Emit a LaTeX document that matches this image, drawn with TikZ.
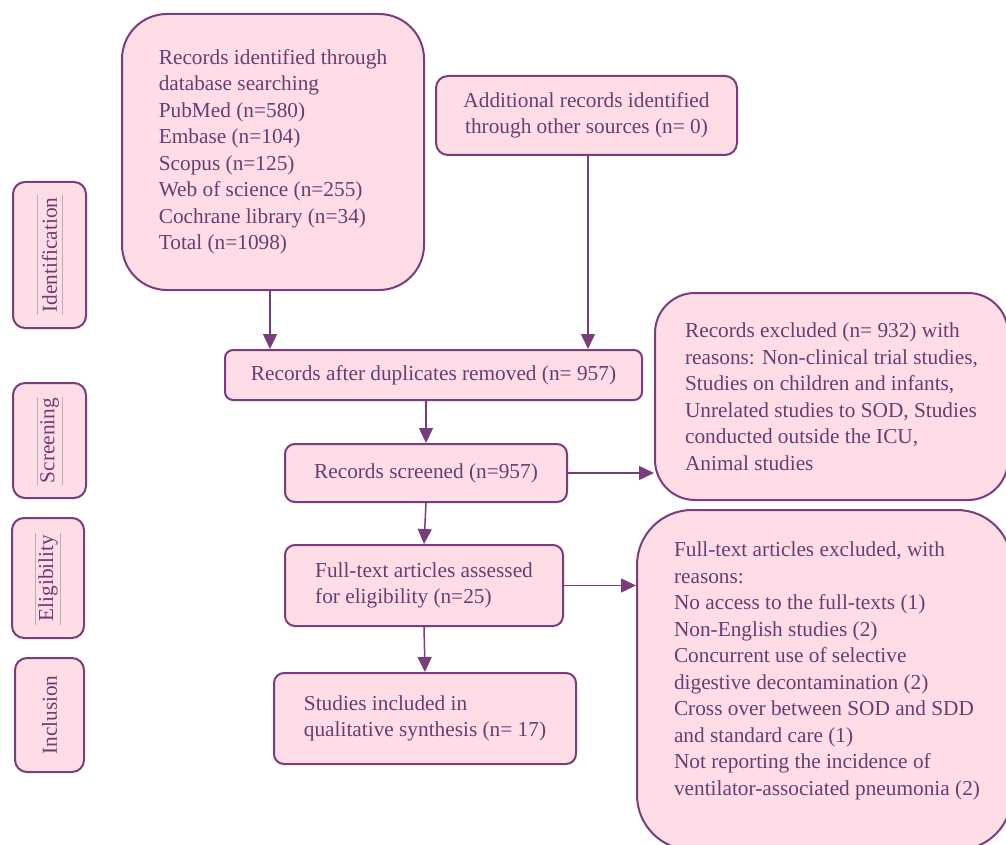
\documentclass[tikz,border=0pt]{standalone}
\usepackage{fontspec}
\setmainfont{Liberation Serif}
\usetikzlibrary{arrows.meta,calc}
\definecolor{boxfill}{HTML}{FFDDE6}
\definecolor{boxline}{HTML}{793D7C}
\definecolor{boxtext}{HTML}{6E3A72}
\definecolor{sideline}{HTML}{B8B0B4}
\begin{document}
\begin{tikzpicture}[x=1pt,y=-1pt,
  every node/.style={font=\fontsize{21.3}{26.5}\selectfont, text=boxtext},
  flowbox/.style={draw=boxline, fill=boxfill, line width=2pt, inner sep=0pt},
  sidebox/.style={flowbox, rotate=90, rounded corners=12pt},
  conn/.style={draw=boxline, line width=1.5pt, -{Triangle[length=15pt,width=14pt]}},
  sidemark/.style={draw=sideline, line width=0.8pt}]
\useasboundingbox (0,0) rectangle (1006,845);

% main boxes
\node[flowbox, rounded corners=45pt, minimum width=302pt, minimum height=276pt, align=left] (ident) at (273,152)
  {Records identified through\\database searching\\PubMed (n=580)\\Embase (n=104)\\Scopus (n=125)\\Web of science (n=255)\\Cochrane library (n=34)\\Total (n=1098)};
\node[flowbox, rounded corners=12pt, minimum width=301pt, minimum height=79pt, align=center] (other) at (586.5,115.5)
  {Additional records identified\\through other sources (n= 0)};
\node[flowbox, rounded corners=8pt, minimum width=417pt, minimum height=50pt] (dup) at (433.5,375)
  {Records after duplicates removed (n= 957)};
\node[flowbox, rounded corners=40pt, minimum width=353pt, minimum height=207pt, align=left] (excl) at (831.5,396.5)
  {Records excluded (n= 932) with\\reasons: Non-clinical trial studies,\\Studies on children and infants,\\Unrelated studies to SOD, Studies\\conducted outside the ICU,\\Animal studies};
\node[flowbox, rounded corners=10pt, minimum width=282pt, minimum height=58pt] (screen) at (426,473)
  {Records screened (n=957)};
\node[flowbox, rounded corners=10pt, minimum width=278pt, minimum height=81pt, align=left] (full) at (424,585.5)
  {Full-text articles assessed\\for eligibility (n=25)};
\node[flowbox, rounded corners=55pt, minimum width=375pt, minimum height=340pt] (fullex) at (824.5,680) {};
\node[align=left, inner sep=0pt] (fullextext) at (827,671)
  {Full-text articles excluded, with\\reasons:\\No access to the full-texts (1)\\Non-English studies (2)\\Concurrent use of selective\\digestive decontamination (2)\\Cross over between SOD and SDD\\and standard care (1)\\Not reporting the incidence of\\ventilator-associated pneumonia (2)};
\node[flowbox, rounded corners=10pt, minimum width=302pt, minimum height=91pt, align=left] (incl) at (425,718.5)
  {Studies included in\\qualitative synthesis (n= 17)};

% side labels
\node[sidebox, minimum width=146pt, minimum height=73pt] (sident) at (49.5,255) {Identification};
\node[sidebox, minimum width=115pt, minimum height=73pt] (sscreen) at (49.5,440.5) {Screening};
\node[sidebox, minimum width=120pt, minimum height=72pt] (selig) at (48,578) {Eligibility};
\node[sidebox, minimum width=114pt, minimum height=69pt] (sincl) at (49.5,715) {Inclusion};

\draw[sidemark] ($(sident.center)+(-12.5,-60)$) -- ($(sident.center)+(-12.5,60)$);
\draw[sidemark] ($(sident.center)+(12.5,-60)$) -- ($(sident.center)+(12.5,60)$);
\draw[sidemark] ($(sscreen.center)+(-12.5,-43.5)$) -- ($(sscreen.center)+(-12.5,44)$);
\draw[sidemark] ($(sscreen.center)+(13,-43.5)$) -- ($(sscreen.center)+(13,44)$);
\draw[sidemark] ($(selig.center)+(-13,-45)$) -- ($(selig.center)+(-13,47)$);
\draw[sidemark] ($(selig.center)+(12,-45)$) -- ($(selig.center)+(12,47)$);

% connectors
\draw[conn] ($(ident.south)+(-3,0)$) -- ($(ident.south |- dup.north)+(-3,0)$);
\draw[conn] ($(other.south)+(1.5,0)$) -- ($(other.south |- dup.north)+(1.5,0)$);
\draw[conn] (screen.north |- dup.south) -- (screen.north);
\draw[conn] (screen.east) -- (screen.east -| excl.west);
\draw[conn] (screen.south) -- (full.north);
\draw[conn] (full.east) -- (full.east -| fullex.west);
\draw[conn] (full.south) -- (incl.north);
\end{tikzpicture}
\end{document}
